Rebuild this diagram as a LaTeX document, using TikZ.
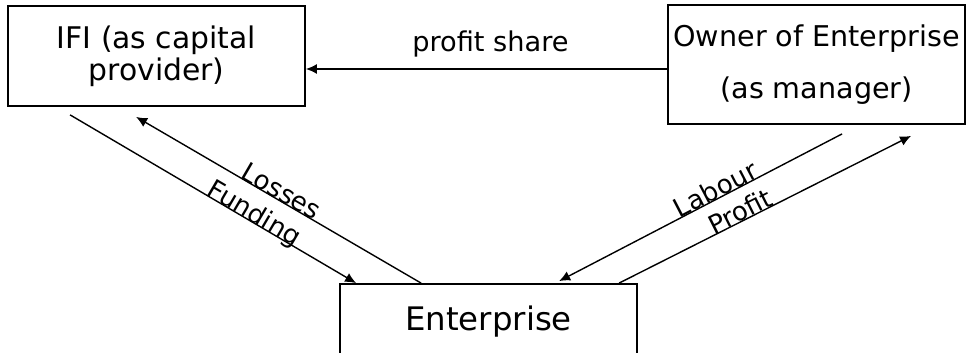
\documentclass[tikz,border=0pt]{standalone}
\usepackage{fontspec}
\setmainfont{DejaVu Sans}
\usetikzlibrary{arrows.meta,calc}
\begin{document}
\begin{tikzpicture}[x=1pt,y=-1pt,
  box/.style={draw,line width=1.8pt,minimum width=297pt,inner sep=0pt,align=center},
  conn/.style={line width=1.4pt,-{Latex[length=11pt,width=10pt]}},
  lbl/.style={font=\fontsize{26}{30}\selectfont,sloped,anchor=base,inner sep=0pt}]
\useasboundingbox (0,0) rectangle (969,353);
\clip (0,0) rectangle (969,353);
\node[box,minimum height=100pt,font=\fontsize{29.8}{32}\selectfont] (ifi) at (156.5,56) {IFI (as capital\\provider)};
\node[box,minimum height=119pt,font=\fontsize{28.6}{52}\selectfont] (own) at (816.5,64.5) {Owner of Enterprise\\(as manager)};
\node[box,minimum height=76pt,font=\fontsize{32.4}{38}\selectfont] (ent) at (488.5,322) {Enterprise};
\draw[conn] ($(own.west)+(0,4.5)$) -- node[pos=0.489,anchor=base,yshift=17pt,inner sep=0pt,font=\fontsize{27.2}{30}\selectfont] {profit share} ($(ifi.east)+(0,13)$);
\draw[conn] ($(ifi.south west)+(63,8)$) -- node[lbl,pos=0.629] {Funding} ($(ent.north west)+(17,0)$);
\draw[conn] ($(ent.north west)+(82,0)$) -- node[lbl,pos=0.506] {Losses} ($(ifi.south west)+(129,10)$);
\draw[conn] ($(own.south west)+(175,9)$) -- node[lbl,pos=0.432] {Labour} ($(ent.north west)+(220,-2)$);
\draw[conn] ($(ent.north west)+(280,0)$) -- node[lbl,pos=0.429] {Profit} ($(own.south west)+(244,11)$);
\end{tikzpicture}
\end{document}
